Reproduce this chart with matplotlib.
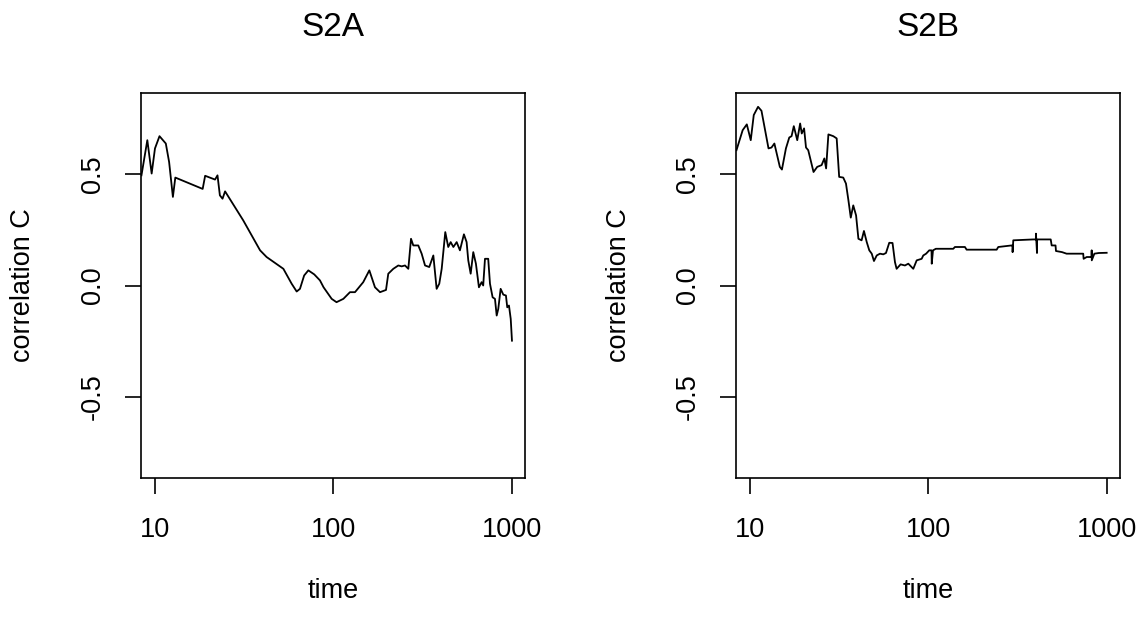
import matplotlib
matplotlib.use("Agg")
import matplotlib.pyplot as plt
from matplotlib.ticker import FixedLocator, NullLocator

plt.rcParams['font.family'] = ['Liberation Sans', 'DejaVu Sans']

titles = ["S2A", "S2B"]
xlabel = "time"
ylabel = "correlation C"
xticks = [10, 100, 1000]
xtick_labels = ["10", "100", "1000"]
yticks = [-0.5, 0.0, 0.5]
ytick_labels = ["-0.5", "0.0", "0.5"]

# Panel S2A
time_a = [8.4, 9.06, 9.58, 10.0, 10.6, 11.5, 12.0, 12.6, 13.0, 18.5,
          19.1, 21.7, 22.4, 23.1, 23.9, 24.7, 31.2, 38.8, 42.2, 52.4,
          58.3, 62.2, 64.9, 68.5, 72.3, 78.0, 84.0, 88.0, 97.7, 104.0,
          113.6, 123.7, 132.0, 146.8, 158.8, 170.8, 182.3, 196.9, 202.8, 216.4,
          230.8, 241.0, 251.6, 262.6, 271.9, 280.0, 298.6, 311.9, 325.8, 344.0,
          362.6, 378.4, 391.5, 403.9, 423.0, 439.5, 453.5, 469.5, 490.0, 511.0,
          538.0, 557.0, 569.0, 587.0, 607.0, 628.0, 653.0, 676.0, 690.0, 706.0,
          736.0, 753.0, 779.0, 803.0, 821.0, 838.0, 864.0, 894.0, 925.0, 941.0,
          962.0, 984.0, 1000.0]
corr_a = [0.495, 0.653, 0.503, 0.616, 0.671, 0.638, 0.555, 0.398, 0.485, 0.434,
          0.493, 0.476, 0.495, 0.405, 0.390, 0.423, 0.293, 0.158, 0.128, 0.075,
          0.008, -0.027, -0.015, 0.045, 0.068, 0.050, 0.023, -0.008, -0.060, -0.075,
          -0.060, -0.030, -0.030, 0.015, 0.068, -0.008, -0.030, -0.020, 0.053, 0.075,
          0.090, 0.086, 0.090, 0.075, 0.210, 0.180, 0.180, 0.143, 0.090, 0.083,
          0.135, -0.015, 0.008, 0.075, 0.240, 0.173, 0.195, 0.173, 0.195, 0.158,
          0.230, 0.195, 0.113, 0.053, 0.150, 0.098, -0.008, 0.015, 0.000, 0.120,
          0.120, 0.008, -0.053, -0.060, -0.135, -0.105, -0.015, -0.041, -0.045, -0.098,
          -0.090, -0.150, -0.248]

# Panel S2B
time_b = [8.4, 9.1, 9.6, 10.1, 10.5, 11.1, 11.6, 12.7, 13.2, 13.7,
          14.7, 15.1, 15.9, 16.6, 17.1, 17.6, 18.4, 19.1, 19.5, 20.1,
          20.6, 21.2, 22.7, 23.8, 25.2, 26.1, 26.7, 27.5, 29.3, 30.6,
          31.6, 33.3, 34.5, 35.6, 36.7, 37.9, 39.3, 40.5, 42.2, 43.5,
          45.1, 46.6, 48.1, 49.5, 51.3, 53.5, 55.8, 57.8, 60.3, 62.9,
          64.9, 66.3, 69.8, 73.8, 77.1, 82.2, 85.9, 91.6, 93.5, 97.0,
          101.0, 104.0, 104.3, 106.0, 110.0, 137.7, 140.6, 160.0, 163.6, 241.0,
          246.0, 292.0, 295.5, 296.0, 298.6, 386.0, 399.5, 400.0, 405.5, 406.0,
          484.0, 490.0, 515.0, 518.0, 560.0, 594.0, 736.0, 740.0, 770.0, 820.0,
          821.0, 822.0, 850.0, 900.0, 996.0]
corr_b = [0.608, 0.698, 0.724, 0.653, 0.766, 0.803, 0.785, 0.616, 0.620, 0.638,
          0.533, 0.521, 0.616, 0.665, 0.671, 0.716, 0.653, 0.728, 0.683, 0.706,
          0.620, 0.608, 0.510, 0.533, 0.541, 0.571, 0.526, 0.679, 0.671, 0.661,
          0.488, 0.485, 0.458, 0.383, 0.305, 0.360, 0.315, 0.210, 0.203, 0.245,
          0.195, 0.158, 0.143, 0.110, 0.135, 0.143, 0.140, 0.146, 0.192, 0.191,
          0.105, 0.075, 0.095, 0.090, 0.098, 0.075, 0.113, 0.120, 0.135, 0.143,
          0.158, 0.158, 0.098, 0.158, 0.165, 0.165, 0.173, 0.173, 0.161, 0.161,
          0.173, 0.180, 0.180, 0.150, 0.203, 0.207, 0.207, 0.233, 0.146, 0.207,
          0.207, 0.180, 0.180, 0.155, 0.150, 0.143, 0.143, 0.120, 0.128, 0.128,
          0.158, 0.113, 0.143, 0.146, 0.147]

series = [(time_a, corr_a), (time_b, corr_b)]

W, H = 1142, 618
fig = plt.figure(figsize=(W / 100, H / 100), dpi=100)

ax_left_px = [141, 736]
ax_top_px, ax_bot_px = 93, 478
ax_w_px = 384
ax_h_px = ax_bot_px - ax_top_px

tick_fs = 19.5
title_fs = 24

for i, (t, c) in enumerate(series):
    ax = fig.add_axes([ax_left_px[i] / W, 1 - ax_bot_px / H, ax_w_px / W, ax_h_px / H])
    ax.plot(t, c, color='black', linewidth=1.3, solid_joinstyle='round')
    ax.set_xscale('log')
    ax.set_xlim(8.35, 1183)
    ax.set_ylim(-0.865, 0.865)
    ax.xaxis.set_major_locator(FixedLocator(xticks))
    ax.xaxis.set_minor_locator(NullLocator())
    ax.set_xticklabels(xtick_labels)
    ax.set_yticks(yticks)
    ax.set_yticklabels(ytick_labels, rotation=90, va='center')
    ax.tick_params(axis='both', direction='out', length=11.5, width=1.2,
                   labelsize=tick_fs, color='black')
    ax.tick_params(axis='x', pad=16.5)
    ax.tick_params(axis='y', pad=14)
    for sp in ax.spines.values():
        sp.set_linewidth(1.2)
        sp.set_color('black')
    ax.text(0.5, 1 + (ax_top_px - 36) / ax_h_px, titles[i], transform=ax.transAxes,
            ha='center', va='baseline', fontsize=title_fs)
    ax.text(0.5, -(598 - ax_bot_px) / ax_h_px, xlabel, transform=ax.transAxes,
            ha='center', va='baseline', fontsize=tick_fs)
    ax.text(-(141 - 23.5) / ax_w_px, 0.5, ylabel, transform=ax.transAxes, rotation=90,
            ha='center', va='center', fontsize=tick_fs)

fig.savefig("out.png", dpi=100)
